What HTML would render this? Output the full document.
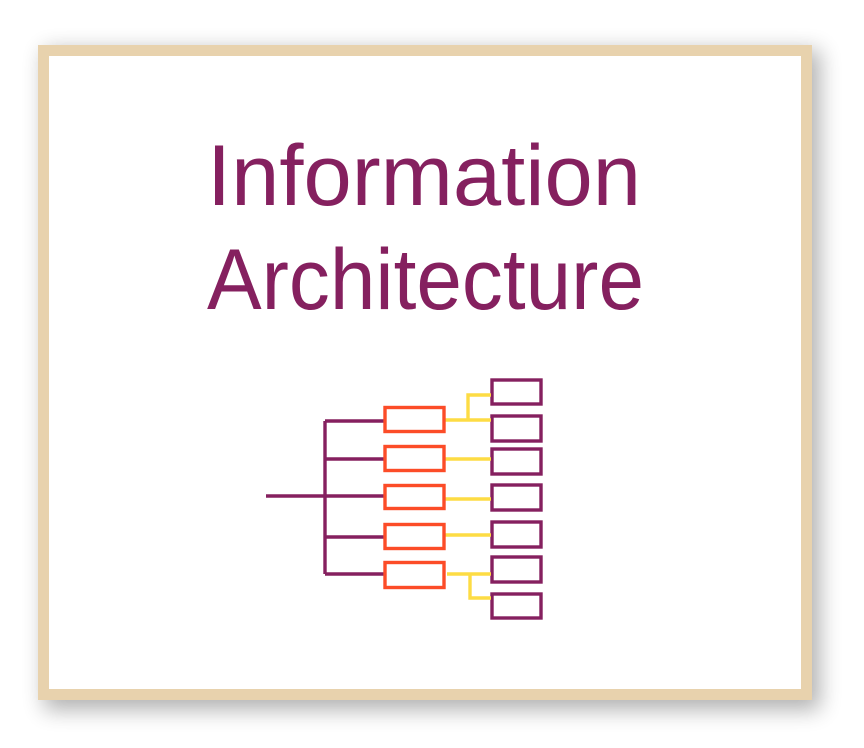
<!DOCTYPE html>
<html><head><style>
html,body{margin:0;padding:0;background:#fff;width:864px;height:748px;overflow:hidden}
</style></head><body>
<svg width="864" height="748" viewBox="0 0 864 748" xmlns="http://www.w3.org/2000/svg">
<defs>
<filter id="sh" x="-10%" y="-10%" width="120%" height="120%">
<feGaussianBlur stdDeviation="11"/>
</filter>
</defs>
<rect x="44" y="50" width="776" height="660" fill="#000" opacity="0.3" filter="url(#sh)"/>
<rect x="43.5" y="50.5" width="763" height="644" fill="#fff" stroke="#e8d2ad" stroke-width="11"/>
<g font-family="Liberation Sans, sans-serif" font-size="86" fill="#85205f">
<text x="207" y="205" textLength="434" lengthAdjust="spacingAndGlyphs">Information</text>
<text x="207" y="309" textLength="437" lengthAdjust="spacingAndGlyphs">Architecture</text>
</g>
<g fill="none" stroke-width="3.4">
<g stroke="#85205f">
<path d="M266 496H385M325 421V574M325 421H385M325 459H385M325 537H385M325 574H385"/>
<rect x="492" y="380" width="49" height="24"/>
<rect x="492" y="416" width="49" height="25"/>
<rect x="492" y="449" width="49" height="25"/>
<rect x="492" y="485" width="49" height="25"/>
<rect x="492" y="522" width="49" height="25"/>
<rect x="492" y="557" width="49" height="25"/>
<rect x="492" y="594" width="49" height="24"/>
</g>
<g stroke="#fddc44">
<path d="M445 420H491M468 420V395H491M445 459H491M445 499H491M445 535H491M447 574H491M470 574V598H491"/>
</g>
<g stroke="#fc4c28">
<rect x="385" y="407.5" width="59" height="24"/>
<rect x="385" y="446.5" width="59" height="24"/>
<rect x="385" y="485.5" width="59" height="23"/>
<rect x="385" y="524.5" width="59" height="24"/>
<rect x="385" y="562.5" width="59" height="25"/>
</g>
</g>
</svg>
</body></html>
